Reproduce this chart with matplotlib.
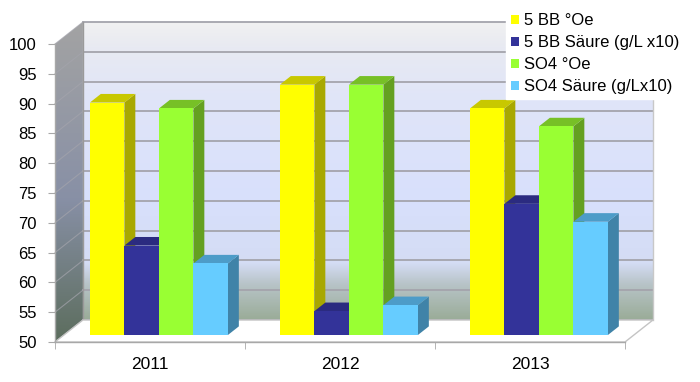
import numpy as np
import matplotlib.pyplot as plt
from matplotlib.patches import Polygon
from matplotlib.colors import LinearSegmentedColormap

plt.rcParams['font.family'] = ['Liberation Sans', 'DejaVu Sans']

years = ['2011', '2012', '2013']
bb_oe = [89, 92, 88]
bb_saeure = [65, 54, 72]
so4_oe = [88, 92, 85]
so4_saeure = [62, 55, 69]
labels = ['5 BB °Oe', '5 BB Säure (g/L x10)', 'SO4 °Oe', 'SO4 Säure (g/Lx10)']
yticks = list(range(50, 101, 5))

front_c = ['#FFFF00', '#333399', '#99FF33', '#66CCFF']
side_c = ['#A8A800', '#262673', '#64A020', '#4083A8']
top_c = ['#C8C800', '#2B2B80', '#77C026', '#4D9CC8']

# fake 3d geometry (oblique projection, data units)
dx, dy = 0.147, 3.69
f0, f1 = 0.32, 0.71
w = 0.1816
base = 50
top = 100

fig = plt.figure(figsize=(7, 3.82), dpi=100)
ax = fig.add_axes([0, 0, 1, 1])
ax.patch.set_visible(False)

# left wall
grad = np.linspace(0, 1, 256).reshape(-1, 1)
cm_left = LinearSegmentedColormap.from_list('lw', [(0, '#5c6d5d'), (0.45, '#8890a6'), (1, '#a3a3a3')])
lw_poly = Polygon([(0, base), (0, top), (dx, top + dy), (dx, base + dy)], closed=True,
                  facecolor='none', edgecolor='none', transform=ax.transData)
ax.add_patch(lw_poly)
im = ax.imshow(grad, extent=[0, dx, base, top + dy], origin='lower', aspect='auto', cmap=cm_left, zorder=0)
im.set_clip_path(lw_poly)

# back wall
cm_back = LinearSegmentedColormap.from_list('bw', [(0, '#9aac98'), (0.12, '#b8c4c8'), (0.19, '#d4dcf4'),
                                                   (0.4, '#d8e0fc'), (0.74, '#e0e5f8'), (0.92, '#e8eaf2'),
                                                   (1, '#f1f1f1')])
ax.imshow(grad, extent=[dx, 3 + dx, base + dy, top + dy], origin='lower', aspect='auto', cmap=cm_back, zorder=0)

# gridlines on walls
for v in yticks:
    ax.plot([dx, 3 + dx], [v + dy, v + dy], color='#a4a4ac', lw=1.3, zorder=1)
    ax.plot([0, dx], [v, v + dy], color='#a4a4ac', lw=0.8, alpha=0.7, zorder=1)
ax.plot([dx, dx], [base + dy, top + dy], color='#9a9a9a', lw=1, zorder=1)
ax.plot([3 + dx, 3 + dx], [base + dy, top + dy], color='#c8c8c8', lw=1, zorder=1)

# floor
floor = Polygon([(0, base), (3, base), (3 + dx, base + dy), (dx, base + dy)], closed=True,
                facecolor='white', edgecolor='#c4c4c4', lw=1, zorder=1.5)
ax.add_patch(floor)

# bars
series = [bb_oe, bb_saeure, so4_oe, so4_saeure]
ddx, ddy = (f1 - f0) * dx, (f1 - f0) * dy
handles = []
for i in range(len(years)):
    for j, s in enumerate(series):
        x0 = i + 0.5 - 2 * w + j * w + f0 * dx
        b0 = base + f0 * dy
        h = s[i] - base
        z = 3 + i * 4 + j
        ax.add_patch(Polygon([(x0 + w, b0), (x0 + w, b0 + h), (x0 + w + ddx, b0 + h + ddy), (x0 + w + ddx, b0 + ddy)],
                             closed=True, facecolor=side_c[j], edgecolor='none', zorder=z))
        ax.add_patch(Polygon([(x0, b0 + h), (x0 + w, b0 + h), (x0 + w + ddx, b0 + h + ddy), (x0 + ddx, b0 + h + ddy)],
                             closed=True, facecolor=top_c[j], edgecolor='none', zorder=z))
        b = ax.bar(x0, h, width=w, bottom=b0, align='edge', color=front_c[j], zorder=z)
        if i == 0:
            handles.append(b)

# axes / ticks
ax.set_xlim(-55 / 190, 645 / 190)
ax.set_ylim(base - 40 / 5.96, base + 342 / 5.96)
for sp in ['top', 'right']:
    ax.spines[sp].set_visible(False)
ax.spines['left'].set_position(('data', 0))
ax.spines['left'].set_bounds(base, top)
ax.spines['bottom'].set_position(('data', base))
ax.spines['bottom'].set_bounds(0, 3)
for sp in ['left', 'bottom']:
    ax.spines[sp].set_color('#a8a8a8')
    ax.spines[sp].set_linewidth(1)
ax.set_yticks(yticks)
ax.tick_params(axis='y', length=5, color='#a8a8a8', labelsize=12, pad=8)
ax.set_xticks([0.5, 1.5, 2.5])
ax.set_xticklabels(years)
ax.set_xticks([0, 1, 2, 3], minor=True)
ax.tick_params(axis='x', which='major', length=0, labelsize=12.5, pad=10.5)
ax.tick_params(axis='x', which='minor', length=5, color='#a8a8a8')

leg = ax.legend(handles, labels, loc='upper right', bbox_to_anchor=(0.99, 1.0), bbox_transform=fig.transFigure,
                fontsize=12, frameon=True, fancybox=False, edgecolor='white', framealpha=1,
                handlelength=0.5, handleheight=0.5, handletextpad=0.3, labelspacing=0.42, borderpad=0.3)
leg.set_zorder(50)

fig.savefig('out.png', dpi=100, facecolor='white')
